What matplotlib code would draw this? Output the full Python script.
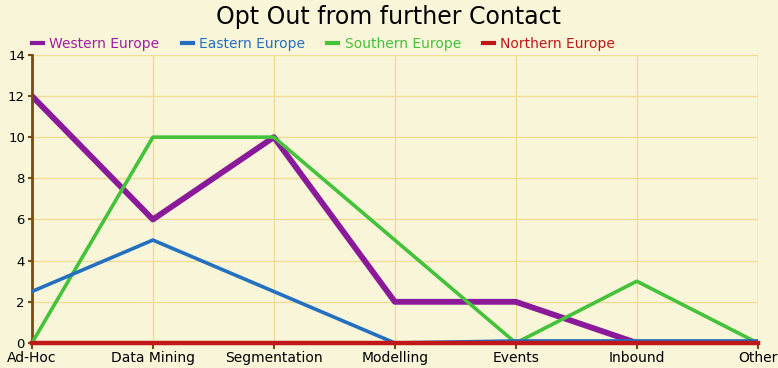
import matplotlib
matplotlib.use('Agg')
import matplotlib.pyplot as plt

# categories and series
categories = ['Ad-Hoc', 'Data Mining', 'Segmentation', 'Modelling', 'Events', 'Inbound', 'Other']
western = [12, 6, 10, 2, 2, 0, 0]
eastern = [2.5, 5, 2.5, 0, 0.1, 0.1, 0.1]
southern = [0, 10, 10, 5, 0, 3, 0]
northern = [0, 0, 0, 0, 0, 0, 0]

bg = '#f8f5d9'
fig = plt.figure(figsize=(7.78, 3.68), dpi=100)
fig.patch.set_facecolor(bg)
ax = fig.add_axes([0.041, 0.068, 0.933, 0.783])
ax.set_facecolor(bg)

x = range(len(categories))
ax.plot(x, southern, color='#44c23a', lw=2.6, label='Southern Europe', zorder=3)
ax.plot(x, eastern, color='#2470c0', lw=2.6, label='Eastern Europe', zorder=4)
ax.plot(x, western, color='#8a1a9a', lw=4.2, label='Western Europe', zorder=2)
ax.plot(x, northern, color='#c01818', lw=3.2, label='Northern Europe', zorder=5, clip_on=False)

ax.set_xlim(0, len(categories) - 1)
ax.set_ylim(0, 14)
ax.set_yticks(range(0, 15, 2))
ax.set_xticks(list(x))
ax.set_xticklabels(categories, fontsize=10)
ax.tick_params(axis='y', labelsize=9.5, length=3, width=1.5, color='#7a4a10', pad=2)
ax.tick_params(axis='x', length=4, width=1.5, color='#7a4a10', pad=2)
ax.grid(True, color='#f0dc98', lw=1)
ax.set_axisbelow(True)
for s in ['top', 'right', 'bottom']:
    ax.spines[s].set_visible(False)
ax.spines['left'].set_color('#7a4a10')
ax.spines['left'].set_linewidth(2)
ax.axvline(len(categories) - 1, color='#f0dc98', lw=1, zorder=0)

handles, labels = ax.get_legend_handles_labels()
order = [2, 1, 0, 3]
leg = ax.legend([handles[i] for i in order], [labels[i] for i in order],
                loc='lower left', bbox_to_anchor=(0.0, 1.015), ncol=4, frameon=False,
                fontsize=10, handlelength=0.8, handletextpad=0.45, columnspacing=1.6,
                borderaxespad=0, borderpad=0)
for line, text in zip(leg.get_lines(), leg.get_texts()):
    line.set_linewidth(3)
    text.set_color(line.get_color())
leg.get_texts()[0].set_color('#a020a0')

fig.text(0.5, 0.955, 'Opt Out from further Contact', ha='center', va='center', fontsize=17)

fig.savefig('out.png', dpi=100, facecolor=bg)
